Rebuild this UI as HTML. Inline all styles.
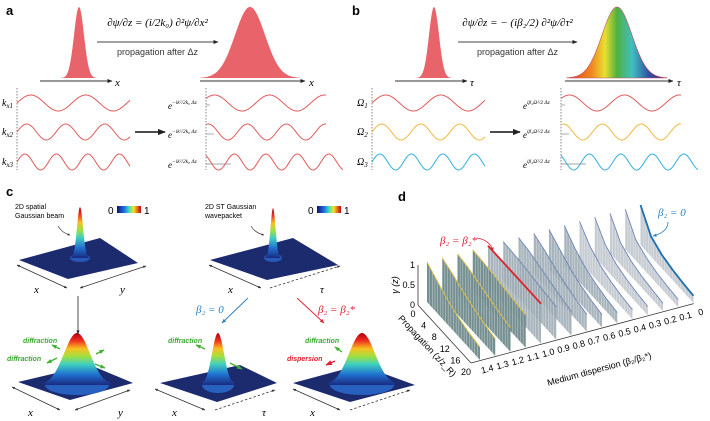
<!DOCTYPE html>
<html><head><meta charset="utf-8"><style>
html,body{margin:0;padding:0;background:#fff}
svg{display:block;font-family:"Liberation Sans",sans-serif}
</style></head><body>
<svg id="fig" width="710" height="421" viewBox="0 0 710 421" xmlns="http://www.w3.org/2000/svg">
<defs>
<marker id="ah" viewBox="0 0 10 10" refX="9" refY="5" markerWidth="5" markerHeight="5" orient="auto"><path d="M0,1 L10,5 L0,9z" fill="#222"/></marker>
<marker id="ahs" viewBox="0 0 10 10" refX="9" refY="5" markerWidth="4" markerHeight="4" orient="auto-start-reverse"><path d="M0,1 L10,5 L0,9z" fill="#333"/></marker>
<marker id="ahb" viewBox="0 0 10 10" refX="9" refY="5" markerWidth="5" markerHeight="5" orient="auto"><path d="M0,1 L10,5 L0,9z" fill="#2a7fc0"/></marker>
<marker id="ahr" viewBox="0 0 10 10" refX="9" refY="5" markerWidth="5" markerHeight="5" orient="auto"><path d="M0,1 L10,5 L0,9z" fill="#e02030"/></marker>
<marker id="ahg" viewBox="0 0 10 10" refX="9" refY="5" markerWidth="4" markerHeight="4" orient="auto"><path d="M0,1 L10,5 L0,9z" fill="#40b030"/></marker>
<linearGradient id="rainbow" x1="0" x2="1" y1="0" y2="0">
<stop offset="0" stop-color="#e03a20"/><stop offset="0.25" stop-color="#f08a20"/><stop offset="0.38" stop-color="#e8e030"/><stop offset="0.5" stop-color="#50b040"/><stop offset="0.65" stop-color="#40c0c0"/><stop offset="0.82" stop-color="#3050a0"/><stop offset="1" stop-color="#502080"/></linearGradient>
<linearGradient id="jet" x1="0" x2="0" y1="0" y2="1">
<stop offset="0" stop-color="#b00010"/><stop offset="0.15" stop-color="#f03020"/><stop offset="0.3" stop-color="#f8c020"/><stop offset="0.45" stop-color="#a0e040"/><stop offset="0.6" stop-color="#40d0c0"/><stop offset="0.8" stop-color="#2070d0"/><stop offset="1" stop-color="#1a2a80"/></linearGradient>
<linearGradient id="jeth" x1="0" x2="1" y1="0" y2="0">
<stop offset="0" stop-color="#10107a"/><stop offset="0.3" stop-color="#2070e0"/><stop offset="0.5" stop-color="#40e0c0"/><stop offset="0.7" stop-color="#f8e020"/><stop offset="1" stop-color="#c00010"/></linearGradient>
</defs>
<g id="panelA"></g>
<g id="panelB"></g>
<g id="panelC"></g>
<g id="panelD"></g>
</svg>
<script>
// ---- panel d data ----
const dispersionLabels = ["1.4","1.3","1.2","1.1","1.0","0.9","0.8","0.7","0.6","0.5","0.4","0.3","0.2","0.1","0"];
const propagationTicks = [0,4,8,12,16,20];
const gammaTicks = [0,0.5,1];
const gammaS0 = [1,0.8,0.6,0.47,0.38,0.32];
const gammaS1 = [1,0.88,0.72,0.6,0.5,0.43];
const gammaS2 = [1,0.95,0.85,0.76,0.67,0.6];
const gammaS3 = [1,0.98,0.95,0.9,0.86,0.82];
const gammaS4 = [1,1,1,1,1,1];
const gammaS5 = [1,0.98,0.95,0.9,0.86,0.82];
const gammaS6 = [1,0.95,0.85,0.76,0.67,0.6];
const gammaS7 = [1,0.88,0.72,0.6,0.5,0.43];
const gammaS8 = [1,0.8,0.6,0.47,0.38,0.32];
const gammaS9 = [1,0.72,0.52,0.4,0.32,0.27];
const gammaS10 = [1,0.66,0.46,0.35,0.28,0.24];
const gammaS11 = [1,0.6,0.42,0.32,0.26,0.22];
const gammaS12 = [1,0.55,0.38,0.29,0.24,0.2];
const gammaS13 = [1,0.52,0.36,0.27,0.22,0.19];
const gammaS14 = [1,0.5,0.34,0.26,0.21,0.18];
const gammaSeries = [gammaS0,gammaS1,gammaS2,gammaS3,gammaS4,gammaS5,gammaS6,gammaS7,gammaS8,gammaS9,gammaS10,gammaS11,gammaS12,gammaS13,gammaS14];

const NS="http://www.w3.org/2000/svg";
function mk(parent,tag,attrs,text){const e=document.createElementNS(NS,tag);for(const k in attrs)e.setAttribute(k,attrs[k]);if(text!==undefined)e.textContent=text;parent.appendChild(e);return e;}

function gaussPath(cx,base,top,sigma,half){let d=`M${cx-half},${base}`;for(let x=-half;x<=half;x+=0.5){const y=base-(base-top)*Math.exp(-x*x/(2*sigma*sigma));d+=` L${cx+x},${y.toFixed(2)}`;}return d+` L${cx+half},${base}Z`;}
function wavePath(x0,x1,cy,amp,period,phase){let d="";for(let x=x0;x<=x1;x+=0.5){const y=cy-amp*Math.sin(2*Math.PI*(x-x0)/period+phase);d+=(x===x0?"M":"L")+x+","+y.toFixed(2)+" ";}return d;}

function buildTop(g,ox,isB){
  const red="#e8646a";
  let e;
  e=mk(g,"path",{d:gaussPath(ox+79,78,7,5,18),fill:red});
  
  
  e=mk(g,"line",{x1:ox+40,y1:81,x2:ox+112,y2:81,stroke:"#333","stroke-width":1,"marker-end":"url(#ah)"});
  
  
  mk(g,"text",{x:ox+115,y:86,"font-size":11,"font-style":"italic","font-family":"Liberation Serif, serif"},isB?"τ":"x");
  if(isB){
    e=mk(g,"path",{d:gaussPath(ox+262,78,7,15,50),fill:"url(#rainbow)",stroke:"#c05060","stroke-width":0.6});
  }else{
    e=mk(g,"path",{d:gaussPath(ox+250,78,7,15,50),fill:red});
  }
  
  
  const ax2=isB?[ox+210,ox+318]:[ox+200,ox+305];
  e=mk(g,"line",{x1:ax2[0],y1:81,x2:ax2[1],y2:81,stroke:"#333","stroke-width":1,"marker-end":"url(#ah)"});
  
  
  mk(g,"text",{x:ax2[1]+4,y:86,"font-size":11,"font-style":"italic","font-family":"Liberation Serif, serif"},isB?"τ":"x");
  const ar=isB?[ox+103,ox+222]:[ox+97,ox+218];
  e=mk(g,"line",{x1:ar[0],y1:42,x2:ar[1],y2:42,stroke:"#444","stroke-width":1,"marker-end":"url(#ah)"});
  
  
  const cx=(ar[0]+ar[1])/2;
  e=mk(g,"text",{x:cx,y:26,"font-size":11,"text-anchor":"middle","font-style":"italic","font-family":"Liberation Serif, serif"},isB?"∂ψ/∂z = − (iβ₂/2) ∂²ψ/∂τ²":"∂ψ/∂z = (i/2k₀) ∂²ψ/∂x²");
  
  
  e=mk(g,"text",{x:cx,y:55,"font-size":9,"text-anchor":"middle",fill:"#333"},"propagation after Δz");
  
  
  // waves
  const cols=isB?["#e05a5a","#f0b840","#30b0e0"]:["#e05a5a","#e05a5a","#e05a5a"];
  const rows=[103,132,162], periods=[55,39,31.5], lab=isB?["Ω","Ω","Ω"]:["k","k","k"];
  mk(g,"line",{x1:ox+17,y1:88,x2:ox+17,y2:170,stroke:"#666","stroke-dasharray":"1.5,1.5","stroke-width":0.8});
  mk(g,"line",{x1:ox+206,y1:88,x2:ox+206,y2:170,stroke:"#666","stroke-dasharray":"1.5,1.5","stroke-width":0.8});
  for(let i=0;i<3;i++){
    e=mk(g,"path",{d:wavePath(ox+17,ox+130,rows[i],8,periods[i],0),fill:"none",stroke:cols[i],"stroke-width":1});
    
    
    const t=mk(g,"text",{x:ox+2,y:rows[i]+3,"font-size":10,"font-style":"italic","font-family":"Liberation Serif, serif"},lab[i]);
    mk(t,"tspan",{"font-size":7,dy:2},isB?String(i+1):"x"+(i+1));
    const shift=[0.6,1.2,2.2][i];
    e=mk(g,"path",{d:wavePath(ox+206,ox+(i==2?343:326),rows[i],8,periods[i],shift),fill:"none",stroke:cols[i],"stroke-width":1});
    
    
    mk(g,"line",{x1:ox+206,y1:rows[i]+2,x2:ox+206+[4,8,25][i],y2:rows[i]+2,stroke:"#888","stroke-width":0.7});
    const et=mk(g,"text",{x:ox+168,y:rows[i]+6,"font-size":9,"font-style":"italic","font-family":"Liberation Serif, serif"},"e");
    mk(et,"tspan",{"font-size":5.5,dy:-5},isB?"iβ₂Ω²/2 Δz":"−ik²/2k₀ Δz");
  }
  e=mk(g,"line",{x1:ox+135,y1:132,x2:ox+165,y2:132,stroke:"#111","stroke-width":1.6,"marker-end":"url(#ah)"});
  
  
}
const A=document.getElementById("panelA"),B=document.getElementById("panelB");
mk(A,"text",{x:6,y:15,"font-size":13,"font-weight":"bold"},"a");
mk(B,"text",{x:352,y:15,"font-size":13,"font-weight":"bold"},"b");
buildTop(A,0,false);buildTop(B,355,true);

// ---- panel c ----
const C=document.getElementById("panelC");
mk(C,"text",{x:6,y:196,"font-size":13,"font-weight":"bold"},"c");
function plate(pts,name){const e=mk(C,"polygon",{points:pts.map(p=>p.join(",")).join(" "),fill:"#1c2a6e"});}
function peak(cx,base,top,sigma,half,name){const e=mk(C,"path",{d:gaussPath(cx,base,top,sigma,half),fill:"url(#jet)"});}
plate([[19,260],[100,238],[138,263],[68,279]],"plate-spatial");
mk(C,"ellipse",{cx:80,cy:258,rx:10,ry:4,fill:"#2858b8"});
peak(80,258,207,3,10,"peak-spatial");
plate([[210,260],[293,238],[338,265],[267,280]],"plate-st");
mk(C,"ellipse",{cx:273,cy:258,rx:9,ry:4,fill:"#2858b8"});
peak(273,258,208,2.5,9,"peak-st");
plate([[18,382],[90,365],[133,383],[70,400]],"plate-diffracted");
mk(C,"ellipse",{cx:77,cy:385,rx:32,ry:10,fill:"#2860c0"});
peak(77,385,333,13,34,"peak-diffracted");
plate([[160,383],[240,365],[277,383],[217,402]],"plate-beta0");
mk(C,"ellipse",{cx:218,cy:385,rx:16,ry:8,fill:"#2860c0"});
peak(218,385,333,6,22,"peak-beta0");
plate([[293,383],[360,365],[415,385],[350,402]],"plate-beta-star");
mk(C,"ellipse",{cx:362,cy:385,rx:32,ry:10,fill:"#2860c0"});
peak(362,385,333,13,34,"peak-beta-star");
function axLine(x1,y1,x2,y2,dash){mk(C,"line",{x1,y1,x2,y2,stroke:"#333","stroke-width":0.8,"stroke-dasharray":dash?"2.5,2":"none","marker-start":dash?"none":"url(#ahs)","marker-end":"url(#ahs)"});}
function it(x,y,t){mk(C,"text",{x,y,"font-size":11,"font-style":"italic","font-family":"Liberation Serif, serif"},t);}
axLine(17,265,67,288);axLine(80,288,146,266);it(34,293,"x");it(120,293,"y");
axLine(209,265,261,288);axLine(270,288,340,266,true);it(228,293,"x");it(320,293,"τ");
axLine(12,387,60,410);axLine(75,410,130,390);it(28,416,"x");it(118,416,"y");
axLine(155,389,205,410);axLine(215,410,275,390,true);it(172,416,"x");it(262,416,"τ");
axLine(293,389,340,410);axLine(350,410,410,390,true);it(310,416,"x");
[[108,"colorbar-1"],[308,"colorbar-2"]].forEach(([x,n])=>{mk(C,"text",{x:x,y:214,"font-size":10},"0");const r=mk(C,"rect",{x:x+9,y:206,width:24,height:7,fill:"url(#jeth)"});mk(C,"text",{x:x+36,y:214,"font-size":10},"1");});
mk(C,"text",{x:15,y:209,"font-size":7},"2D spatial");
mk(C,"text",{x:15,y:218,"font-size":7},"Gaussian beam");
mk(C,"path",{d:"M58,226 Q62,233 70,235",fill:"none",stroke:"#333","stroke-width":0.7,"marker-end":"url(#ahs)"});
mk(C,"text",{x:205,y:209,"font-size":7},"2D ST Gaussian");
mk(C,"text",{x:205,y:218,"font-size":7},"wavepacket");
mk(C,"path",{d:"M251,226 Q255,233 264,235",fill:"none",stroke:"#333","stroke-width":0.7,"marker-end":"url(#ahs)"});
mk(C,"line",{x1:78,y1:296,x2:78,y2:334,stroke:"#222","stroke-width":0.8,"marker-end":"url(#ah)"});
mk(C,"line",{x1:248,y1:298,x2:222,y2:323,stroke:"#2a7fc0","stroke-width":0.9,"marker-end":"url(#ahb)"});
mk(C,"line",{x1:297,y1:298,x2:324,y2:323,stroke:"#e02030","stroke-width":0.9,"marker-end":"url(#ahr)"});
mk(C,"text",{x:196,y:313,"font-size":11,fill:"#2a7fc0","font-style":"italic","font-family":"Liberation Serif, serif"},"β₂ = 0");
mk(C,"text",{x:318,y:313,"font-size":11,fill:"#e02030","font-style":"italic","font-family":"Liberation Serif, serif"},"β₂ = β₂*");
function lbl(x,y,t,c){mk(C,"text",{x,y,"font-size":7,"font-weight":"bold","font-style":"italic",fill:c},t);}
lbl(23,343,"diffraction","#3aaa30");lbl(7,361,"diffraction","#3aaa30");
lbl(168,343,"diffraction","#3aaa30");lbl(305,343,"diffraction","#3aaa30");lbl(287,361,"dispersion","#e02030");
function ga(x1,y1,x2,y2,c){mk(C,"line",{x1,y1,x2,y2,stroke:c||"#40b030","stroke-width":1.3,"marker-end":c?"url(#ahr)":"url(#ahg)"});}
ga(60,349,52,345);ga(57,358,47,363);ga(96,354,104,350);ga(95,364,105,368);
ga(205,349,196,345);ga(230,363,242,369);ga(342,352,335,347);ga(335,361,326,365,"#e02030");

// ---- panel d ----
const D=document.getElementById("panelD");
mk(D,"text",{x:398,y:201,"font-size":13,"font-weight":"bold"},"d");
const X0=427,Y0=302,DX=15.25,DY=-4.07,PZX=53,PZY=58,H=40,ZMAX=20;
function sx(i,z){return X0+i*DX+z/ZMAX*PZX;}
function sy(i,z,g){return Y0+i*DY+z/ZMAX*PZY-g*H;}
function gAt(arr,z){const k=Math.min(propagationTicks.length-2,Math.floor(z/4));const t=(z-propagationTicks[k])/4;return arr[k]+(arr[k+1]-arr[k])*t;}
const ox=X0-9,oy=Y0+3;
mk(D,"line",{x1:ox,y1:oy,x2:ox+PZX,y2:oy+PZY,stroke:"#333","stroke-width":0.8});
mk(D,"line",{x1:ox+PZX,y1:oy+PZY,x2:ox+PZX+14.6*DX,y2:oy+PZY+14.6*DY,stroke:"#333","stroke-width":0.8});
mk(D,"line",{x1:ox,y1:oy,x2:ox,y2:oy-H,stroke:"#333","stroke-width":0.8});
for(let n=dispersionLabels.length-1;n>=0;n--){
  const arr=gammaSeries[n];
  let top="";let bars="";
  for(let z=0;z<=ZMAX;z+=0.5){top+=(z===0?"M":"L")+sx(n,z).toFixed(2)+","+sy(n,z,gAt(arr,z)).toFixed(2)+" ";}
  let poly=top+`L${sx(n,ZMAX)},${sy(n,ZMAX,0)} L${sx(n,0)},${sy(n,0,0)}Z`;
  const fill=n<4?"#6f8a8c":(n<10?"#9aa8b2":"#bcc3ca");
  const s=mk(D,"path",{d:poly,fill:fill,"fill-opacity":n<4?0.95:0.85,stroke:"none"});
  
  
  for(let z=1;z<ZMAX;z+=1){bars+=`M${sx(n,z).toFixed(2)},${sy(n,z,gAt(arr,z)).toFixed(2)} L${sx(n,z).toFixed(2)},${sy(n,z,0).toFixed(2)} `;}
  mk(D,"path",{d:bars,stroke:"#fff","stroke-opacity":0.5,"stroke-width":0.6,fill:"none"});
  const lc=n===4?"#e0202a":(n===14?"#1f6fb0":(n<4?"#e8c040":"#6f86b8"));
  const ln=mk(D,"path",{d:top,fill:"none",stroke:lc,"stroke-width":n===4||n===14?1.8:0.9});
  
  
  const t=mk(D,"text",{x:sx(n,ZMAX)+8,y:sy(n,ZMAX,0)+12,"font-size":9,"text-anchor":"middle",transform:`rotate(-15 ${sx(n,ZMAX)+8} ${sy(n,ZMAX,0)+12})`},dispersionLabels[n]);
  
  
}
propagationTicks.forEach(z=>{const t=mk(D,"text",{x:ox+z/ZMAX*PZX-5,y:oy+z/ZMAX*PZY+12,"font-size":9,"text-anchor":"middle"},String(z));});
gammaTicks.forEach(g=>{const t=mk(D,"text",{x:ox-3,y:oy-g*H+3,"font-size":9,"text-anchor":"end"},String(g));});
let e=mk(D,"text",{x:398,y:285,"font-size":9,"font-style":"italic","text-anchor":"middle",transform:"rotate(-90 398 285)"},"γ (z)");

e=mk(D,"text",{x:425,y:348,"font-size":9,"text-anchor":"middle",transform:"rotate(47 425 348)"},"Propagation (z/z_R)");

e=mk(D,"text",{x:600,y:372,"font-size":9,"text-anchor":"middle",transform:"rotate(-15 600 372)"},"Medium dispersion (β₂/β₂*)");

e=mk(D,"text",{x:440,y:244,"font-size":11,fill:"#e02030","font-style":"italic","font-family":"Liberation Serif, serif"},"β₂ = β₂*");

mk(D,"path",{d:"M477,238 Q490,240 493,251",fill:"none",stroke:"#e02030","stroke-width":0.8,"marker-end":"url(#ahr)"});
e=mk(D,"text",{x:658,y:216,"font-size":11,fill:"#2a7fc0","font-style":"italic","font-family":"Liberation Serif, serif"},"β₂ = 0");

mk(D,"path",{d:"M668,222 Q668,232 653,236",fill:"none",stroke:"#2a7fc0","stroke-width":0.8,"marker-end":"url(#ahb)"});
</script>
</body></html>
